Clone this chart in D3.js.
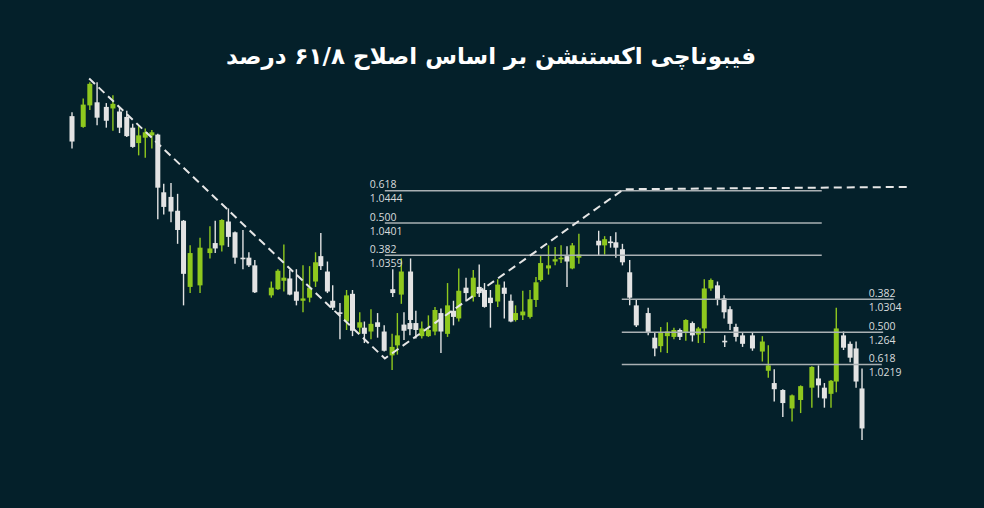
<!DOCTYPE html>
<html><head><meta charset="utf-8">
<script src="https://cdn.jsdelivr.net/npm/d3@7/dist/d3.min.js"></script>
<style>
html,body{margin:0;padding:0;background:#04202a;}
svg{display:block;}
</style></head>
<body>
<svg id="chart" width="984" height="508"></svg>
<script>
// ---- data ----
const title = "فیبوناچی اکستنشن بر اساس اصلاح ۶۱/۸ درصد";
const t = [0.0,1.7,2.7,3.8,5.2,6.2,7.2,8.3,9.2,10.1,
 11.1,12.1,13.0,13.9,15.0,16.0,16.9,17.9,19.4,20.9,
 21.7,22.7,23.7,24.7,25.9,26.8,27.7,30.2,31.2,32.1,
 33.0,34.0,35.0,36.0,36.9,37.7,38.7,39.5,40.6,41.6,
 42.5,43.6,44.3,45.3,46.3,47.3,48.5,48.6,49.3,49.9,
 50.3,51.3,51.2,52.1,53.0,54.0,55.0,55.9,56.9,57.8,
 58.6,59.7,60.8,61.7,62.5,63.4,64.5,65.5,66.5,67.2,
 68.3,69.4,70.3,71.0,72.2,73.2,74.1,75.0,75.8,76.8,
 79.8,80.7,81.6,82.4,83.4,84.5,85.5,87.3,88.3,89.2,
 90.2,91.2,92.1,93.0,94.0,94.9,95.8,96.8,97.8,98.8,
 98.9,99.7,100.6,101.6,103.1,104.6,105.5,106.4,107.7,109.1,
 110.4,112.1,113.1,114.0,115.0,115.8,116.9,117.9,118.8,119.7];
const open = [1.0540,1.0526,1.0554,1.0558,1.0552,1.0550,1.0546,1.0539,1.0525,1.0505,
 1.0512,1.0515,1.0516,1.0441,1.0435,1.0417,1.0404,1.0318,1.0320,1.0362,
 1.0375,1.0372,1.0403,1.0389,1.0356,1.0356,1.0346,1.0307,1.0315,1.0326,
 1.0329,1.0312,1.0300,1.0304,1.0325,1.0358,1.0338,1.0300,1.0285,1.0273,
 1.0309,1.0265,1.0265,1.0260,1.0272,1.0260,1.0229,1.0315,1.0242,1.0308,
 1.0269,1.0338,1.0271,1.0271,1.0254,1.0254,1.0260,1.0284,1.0257,1.0287,
 1.0277,1.0317,1.0305,1.0318,1.0314,1.0304,1.0299,1.0317,1.0300,1.0275,
 1.0281,1.0279,1.0301,1.0327,1.0342,1.0351,1.0354,1.0358,1.0342,1.0356,
 1.0378,1.0372,1.0377,1.0376,1.0367,1.0337,1.0294,1.0284,1.0252,1.0241,
 1.0254,1.0253,1.0262,1.0258,1.0271,1.0256,1.0264,1.0316,1.0320,1.0303,
 1.0248,1.0289,1.0266,1.0255,1.0255,1.0234,1.0209,1.0193,1.0184,1.0160,
 1.0171,1.0187,1.0199,1.0187,1.0179,1.0195,1.0255,1.0244,1.0238,1.0186];
const high = [1.0545,1.0563,1.0584,1.0584,1.0557,1.0567,1.0551,1.0547,1.0530,1.0527,
 1.0524,1.0522,1.0517,1.0452,1.0453,1.0439,1.0405,1.0372,1.0382,1.0397,
 1.0404,1.0406,1.0420,1.0390,1.0392,1.0363,1.0353,1.0325,1.0341,1.0373,
 1.0340,1.0341,1.0346,1.0345,1.0363,1.0388,1.0351,1.0320,1.0297,1.0314,
 1.0314,1.0285,1.0273,1.0289,1.0284,1.0268,1.0257,1.0341,1.0284,1.0355,
 1.0285,1.0355,1.0281,1.0287,1.0273,1.0281,1.0292,1.0290,1.0323,1.0300,
 1.0342,1.0330,1.0340,1.0347,1.0323,1.0314,1.0328,1.0325,1.0308,1.0294,
 1.0313,1.0314,1.0331,1.0359,1.0372,1.0370,1.0372,1.0371,1.0375,1.0387,
 1.0391,1.0384,1.0384,1.0389,1.0374,1.0353,1.0301,1.0291,1.0259,1.0266,
 1.0272,1.0265,1.0264,1.0276,1.0273,1.0266,1.0328,1.0329,1.0325,1.0307,
 1.0255,1.0293,1.0270,1.0258,1.0259,1.0254,1.0242,1.0211,1.0185,1.0178,
 1.0190,1.0215,1.0216,1.0193,1.0197,1.0291,1.0260,1.0247,1.0247,1.0212];
const low = [1.0498,1.0525,1.0548,1.0528,1.0525,1.0521,1.0518,1.0513,1.0499,1.0489,
 1.0486,1.0498,1.0406,1.0412,1.0402,1.0374,1.0294,1.0310,1.0310,1.0355,
 1.0362,1.0364,1.0370,1.0348,1.0341,1.0344,1.0310,1.0304,1.0314,1.0312,
 1.0307,1.0294,1.0285,1.0298,1.0318,1.0340,1.0310,1.0288,1.0250,1.0262,
 1.0254,1.0257,1.0245,1.0250,1.0252,1.0234,1.0210,1.0305,1.0230,1.0296,
 1.0249,1.0266,1.0255,1.0251,1.0251,1.0253,1.0255,1.0232,1.0253,1.0268,
 1.0273,1.0299,1.0299,1.0305,1.0291,1.0265,1.0292,1.0277,1.0272,1.0273,
 1.0275,1.0277,1.0292,1.0325,1.0334,1.0346,1.0349,1.0318,1.0341,1.0348,
 1.0359,1.0360,1.0369,1.0356,1.0346,1.0294,1.0266,1.0255,1.0228,1.0233,
 1.0232,1.0250,1.0249,1.0248,1.0247,1.0245,1.0245,1.0313,1.0294,1.0277,
 1.0240,1.0262,1.0247,1.0240,1.0235,1.0221,1.0200,1.0169,1.0149,1.0143,
 1.0154,1.0161,1.0174,1.0161,1.0161,1.0181,1.0236,1.0220,1.0187,1.0119];
const close = [1.0507,1.0555,1.0582,1.0538,1.0534,1.0556,1.0525,1.0514,1.0500,1.0515,
 1.0519,1.0519,1.0447,1.0422,1.0416,1.0392,1.0335,1.0362,1.0369,1.0368,
 1.0368,1.0405,1.0383,1.0356,1.0354,1.0346,1.0311,1.0317,1.0339,1.0330,
 1.0308,1.0300,1.0303,1.0317,1.0350,1.0345,1.0312,1.0291,1.0284,1.0307,
 1.0261,1.0272,1.0257,1.0270,1.0266,1.0235,1.0240,1.0310,1.0255,1.0338,
 1.0261,1.0275,1.0263,1.0262,1.0264,1.0262,1.0288,1.0260,1.0294,1.0279,
 1.0313,1.0310,1.0330,1.0310,1.0292,1.0297,1.0321,1.0309,1.0273,1.0284,
 1.0286,1.0302,1.0324,1.0349,1.0346,1.0354,1.0356,1.0351,1.0372,1.0360,
 1.0372,1.0380,1.0375,1.0369,1.0350,1.0304,1.0268,1.0258,1.0238,1.0259,
 1.0260,1.0262,1.0253,1.0275,1.0255,1.0264,1.0316,1.0327,1.0301,1.0285,
 1.0246,1.0270,1.0253,1.0244,1.0238,1.0247,1.0216,1.0185,1.0167,1.0177,
 1.0189,1.0214,1.0190,1.0173,1.0196,1.0264,1.0239,1.0226,1.0195,1.0134];

// Fibonacci retracement set (left) and extension set (right)
const fibLeftRatios = ["0.618","0.500","0.382"];
const fibLeftValues = ["1.0444","1.0401","1.0359"];
const fibLeftPrices = [1.0443,1.0401,1.0359];
const fibLeftStart = [47.4,47.4,47.4];
const fibLeftEnd = [113.6,113.6,113.6];
const fibRightRatios = ["0.382","0.500","0.618"];
const fibRightValues = ["1.0304","1.264","1.0219"];
const fibRightPrices = [1.0302,1.0259,1.0217];
const fibRightStart = [83.3,83.3,83.3];
const fibRightEnd = [124.5,122.9,122.7];

// dashed swing line
const trendT = [2.6,47.4,83.6,127.0];
const trendP = [1.0589,1.0225,1.0445,1.0448];

// ---- drawing ----
const svg = d3.select("#chart");
const W = 984, H = 508;
const BG = "#04202a", GREEN = "#8fc81e", WHITE = "#e3e3e3", LINE = "#a9b0b3", TXT = "#d9dcdd";
svg.append("rect").attr("width",W).attr("height",H).attr("fill",BG);

const x = d3.scaleLinear().domain([0,120]).range([72,864]);
const y = d3.scaleLinear().domain([1.0100,1.0620]).range([454.6,54.6]);

svg.append("text").attr("x",491).attr("y",64).attr("text-anchor","middle")
  .attr("direction","rtl")
  .attr("font-family","'DejaVu Sans', 'Noto Sans', sans-serif").attr("font-weight","bold")
  .attr("font-size",23).attr("fill","#ffffff").text(title);

const candles = t.map((tt,i)=>({t:tt,o:open[i],h:high[i],l:low[i],c:close[i]}));
const bw = 5;
const g = svg.append("g");
const cg = g.selectAll("g.c").data(candles).join("g").attr("class","c");
cg.append("line")
  .attr("x1",d=>x(d.t)).attr("x2",d=>x(d.t))
  .attr("y1",d=>y(d.h)).attr("y2",d=>y(d.l))
  .attr("stroke",d=>d.c>=d.o?GREEN:WHITE).attr("stroke-width",1.4);
cg.append("rect")
  .attr("x",d=>x(d.t)-bw/2).attr("width",bw)
  .attr("y",d=>y(Math.max(d.o,d.c)))
  .attr("height",d=>Math.max(1.6,Math.abs(y(d.o)-y(d.c))))
  .attr("fill",d=>d.c>=d.o?GREEN:WHITE);

// fib lines
function fibSet(prices,starts,ends,ratios,values,labelX){
  const lg = svg.append("g");
  prices.forEach((p,i)=>{
    lg.append("line").attr("x1",x(starts[i])).attr("x2",x(ends[i]))
      .attr("y1",y(p)).attr("y2",y(p))
      .attr("stroke",LINE).attr("stroke-width",1.5);
    lg.append("text").attr("x",labelX).attr("y",y(p)-2.5)
      .attr("font-family","'Open Sans','Noto Sans',sans-serif").attr("font-size",10.5)
      .attr("fill",TXT).text(ratios[i]);
    lg.append("text").attr("x",labelX).attr("y",y(p)+11.5)
      .attr("font-family","'Open Sans','Noto Sans',sans-serif").attr("font-size",10.5)
      .attr("fill",TXT).text(values[i]);
  });
}
fibSet(fibLeftPrices,fibLeftStart,fibLeftEnd,fibLeftRatios,fibLeftValues,x(fibLeftStart[0])-15);
fibSet(fibRightPrices,fibRightStart,fibRightEnd,fibRightRatios,fibRightValues,x(fibRightEnd[2])-13);

// dashed swing
const trend = trendT.map((tt,i)=>[x(tt),y(trendP[i])]);
svg.append("path").attr("d",d3.line()(trend))
  .attr("fill","none").attr("stroke","#e6e6e6").attr("stroke-width",2)
  .attr("stroke-dasharray","8,5");
</script>
</body></html>
